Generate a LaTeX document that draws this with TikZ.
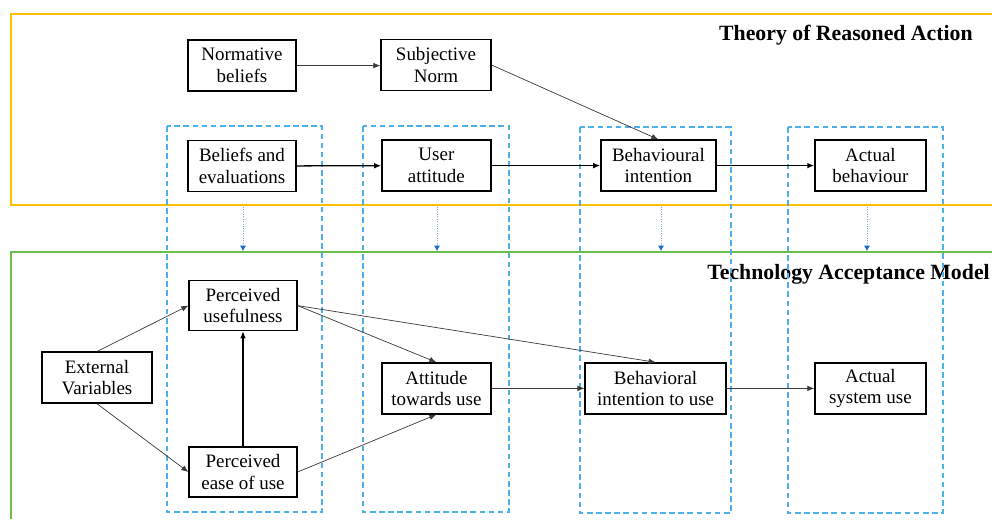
\documentclass[tikz,border=0pt]{standalone}
\usepackage{fontspec}
\setmainfont{Liberation Serif}
\usetikzlibrary{arrows.meta, positioning, calc}
\definecolor{trayellow}{HTML}{FFC000}
\definecolor{tamgreen}{HTML}{6CC04A}
\definecolor{laneblue}{HTML}{4DB0EC}
\definecolor{dropblue}{HTML}{1F6FD0}
\definecolor{linkgrey}{HTML}{3A3A3A}

\tikzset{
  box/.style={draw, line width=0.9pt, minimum height=1.275cm, inner sep=1pt,
    align=center, font=\rmfamily\fontsize{13.5}{15.5}\selectfont},
  solidlink/.style={-{Latex[length=5pt,width=4pt]}, line width=0.9pt, black},
  thinlink/.style={-{Latex[length=5pt,width=4pt]}, line width=0.5pt, linkgrey},
  lane/.style={laneblue, dash pattern=on 4pt off 2.5pt, line width=0.9pt},
  drop/.style={dropblue!60, densely dotted, line width=0.7pt,
    -{Latex[length=4pt,width=4.5pt,color=dropblue]}},
  frametitle/.style={font=\rmfamily\fontsize{15.5}{18}\selectfont\bfseries,
    anchor=base east, inner sep=0pt},
}

\begin{document}
\begin{tikzpicture}
  \useasboundingbox (0,0) rectangle (24.8,-12.975);

  % the two model frames
  \draw[trayellow, line width=0.9pt] (24.8,-0.35) -- (0.275,-0.35) -- (0.275,-5.125) -- (24.8,-5.125);
  \draw[tamgreen, line width=0.9pt] (24.8,-6.3) -- (0.275,-6.3) -- (0.275,-12.975);
  \node[frametitle] (traTitle) at (24.325,-1.0) {Theory of Reasoned Action};
  \node[frametitle] (tamTitle) at (24.75,-6.975) {Technology Acceptance Model};

  % Theory of Reasoned Action
  \node[box, minimum width=2.7cm] (norm) at (6.05,-1.64) {Normative\\beliefs};
  \node[box, minimum width=2.75cm] (subj) at (10.9,-1.625) {Subjective\\Norm};
  \node[box, minimum width=2.7cm] (belief) at (6.05,-4.15) {Beliefs and\\evaluations};
  \node[box, minimum width=2.725cm] (userAtt) at (10.91,-4.14) {User\\attitude};
  \node[box, minimum width=2.875cm] (behInt) at (16.46,-4.14) {Behavioural\\intention};
  \node[box, minimum width=2.775cm] (actBeh) at (21.76,-4.14) {Actual\\behaviour};

  % Technology Acceptance Model
  \node[box, minimum width=2.75cm] (ext) at (2.425,-9.44) {External\\Variables};
  \node[box, minimum width=2.7cm, minimum height=1.25cm] (pu) at (6.075,-7.64) {Perceived\\usefulness};
  \node[box, minimum width=2.7cm, minimum height=1.25cm] (peu) at (6.075,-11.8) {Perceived\\ease of use};
  \node[box, minimum width=2.725cm] (att) at (10.91,-9.71) {Attitude\\towards use};
  \node[box, minimum width=3.525cm] (biu) at (16.39,-9.71) {Behavioral\\intention to use};
  \node[box, minimum width=2.775cm] (asu) at (21.76,-9.71) {Actual\\system use};

  % lanes that pair the constructs
  \foreach \xa/\ya/\xb/\yb in {4.175/-3.15/8.05/-12.8, 9.075/-3.15/12.725/-12.8,
      14.5/-3.175/18.275/-12.825, 19.7/-3.175/23.575/-12.825}
    \draw[lane] (\xa,\ya) rectangle (\xb,\yb);

  % mapping from TRA to TAM
  \foreach \x [count=\i] in {6.075,10.925,16.525,21.675} {
    \coordinate (dropTop\i) at (\x,-5.17);
    \coordinate (dropEnd\i) at (\x,-6.28);
    \draw[drop] (dropTop\i) -- (dropEnd\i);
  }

  % TRA links
  \draw[thinlink] (norm.east) -- (norm.east -| subj.west);
  \draw[thinlink] (subj.east) -- (behInt.north);
  \draw[solidlink] (belief) -- (userAtt);
  \draw[solidlink] (userAtt) -- (behInt);
  \draw[solidlink] (behInt) -- (actBeh);

  % TAM links
  \draw[thinlink] (ext.north) -- (pu.west);
  \draw[thinlink] (ext.south) -- (peu.west);
  \draw[solidlink] (peu) -- (pu);
  \draw[thinlink] (pu.east) -- (att.north);
  \draw[thinlink] (pu.east) -- (biu.north);
  \draw[thinlink] (peu.east) -- (att.south);
  \draw[thinlink] (att) -- (biu);
  \draw[thinlink] (biu) -- (asu);
\end{tikzpicture}
\end{document}
